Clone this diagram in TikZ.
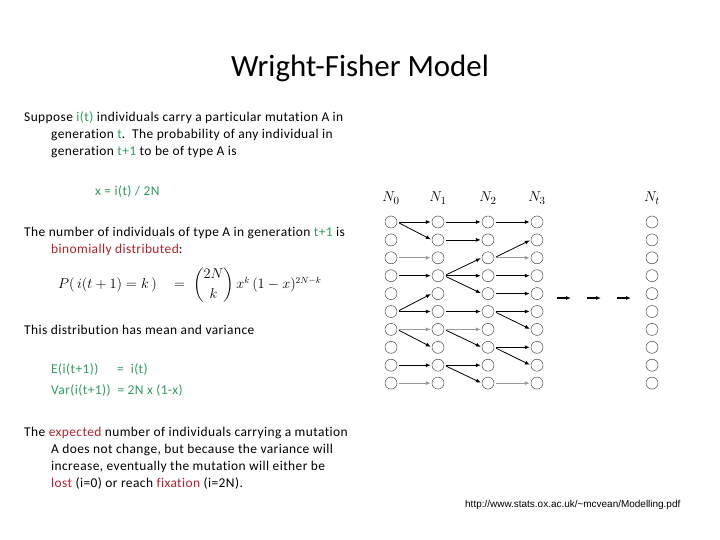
\documentclass[tikz,border=0pt]{standalone}
\usepackage{fontspec}
\usepackage{amsmath}
\usetikzlibrary{arrows.meta}
\setmainfont[Ligatures=NoCommon,LetterSpace=3]{Carlito}
\newfontfamily\titlefont[Ligatures=NoCommon]{Carlito}
\newfontfamily\urlfont{Liberation Sans}
\definecolor{grn}{HTML}{2E9B5F}
\definecolor{rd}{HTML}{B0202A}
\newcommand{\G}[1]{\textcolor{grn}{#1}}
\newcommand{\R}[1]{\textcolor{rd}{#1}}
\begin{document}
\begin{tikzpicture}[x=1bp,y=-1bp,
  txt/.style={anchor=base west,inner sep=0,font=\fontsize{13.5}{15}\selectfont},
  ind/.style={circle,draw=black!70,line width=0.5pt,minimum size=12bp,inner sep=0},
  arr/.style={-{Latex[length=5bp,width=4bp]},line width=0.8pt,shorten <=2bp,shorten >=1bp},
  garr/.style={arr,draw=black!40},
  lab/.style={font=\fontsize{15}{15}\selectfont,anchor=base}]
\useasboundingbox (0,0) rectangle (720,540);
\node[font=\titlefont\fontsize{31}{34}\selectfont] (title) at (360,68) {Wright-Fisher Model};
\node[txt] (l1) at (24,122) {Suppose \G{i(t)} individuals carry a particular mutation A in};
\node[txt] (l2) at (51,139) {generation \G{t}.\ \ The probability of any individual in};
\node[txt] (l3) at (51,156) {generation \G{t+1} to be of type A is};
\node[txt] (l4) at (95,196) {\G{x = i(t) / 2N}};
\node[txt] (l5) at (24,237) {The number of individuals of type A in generation \G{t+1} is};
\node[txt] (l6) at (51,254) {\R{binomially distributed}:};
\node[anchor=west,inner sep=0,font=\fontsize{13.5}{15}\selectfont] (f) at (58,285)
  {$P(\,i(t+1)=k\,)\quad=\;\dbinom{2N}{k}\,x^{k}\,(1-x)^{2N-k}$};
\node[txt] (l7) at (24,334) {This distribution has mean and variance};
\node[txt] (l8) at (51,373) {\G{E(i(t+1))}};
\node[txt] (l8b) at (117,373) {\G{= \ i(t)}};
\node[txt] (l9) at (51,394) {\G{Var(i(t+1))\ \ = 2N x (1-x)}};
\node[txt] (l10) at (24,436) {The \R{expected} number of individuals carrying a mutation};
\node[txt] (l11) at (51,453) {A does not change, but because the variance will};
\node[txt] (l12) at (51,470) {increase, eventually the mutation will either be};
\node[txt] (l13) at (51,487) {\R{lost} (i=0) or reach \R{fixation} (i=2N).};
\node[anchor=base west,inner sep=0,font=\urlfont\fontsize{10}{11}\selectfont] (url) at (465,507) {http://www.stats.ox.ac.uk/\textasciitilde mcvean/Modelling.pdf};
% columns
\foreach \c/\x in {0/391,1/438,2/488,3/537,4/652}{
  \foreach \r in {1,...,10}{
    \node[ind] (c\c r\r) at (\x,{222+(\r-1)*17.9}) {};
  }
}
\node[lab] (n0) at (391,202) {$N_0$};
\node[lab] (n1) at (438,202) {$N_1$};
\node[lab] (n2) at (488,202) {$N_2$};
\node[lab] (n3) at (537,202) {$N_3$};
\node[lab] (nt) at (652,202) {$N_t$};
% arrows col0->col1
\foreach \a/\b in {1/1,1/2,4/4,6/5,6/6,7/8,9/9}{\draw[arr] (c0r\a.east) -- (c1r\b.west);}
\foreach \a/\b in {3/3,7/7,10/10}{\draw[garr] (c0r\a.east) -- (c1r\b.west);}
% col1->col2
\foreach \a/\b in {1/1,2/2,4/3,4/4,4/5,6/6,7/8,9/9,9/10}{\draw[arr] (c1r\a.east) -- (c2r\b.west);}
\foreach \a/\b in {7/7}{\draw[garr] (c1r\a.east) -- (c2r\b.west);}
% col2->col3
\foreach \a/\b in {1/1,3/2,4/4,5/5,6/6,6/7,8/8,8/9}{\draw[arr] (c2r\a.east) -- (c3r\b.west);}
\foreach \a/\b in {3/3,10/10}{\draw[garr] (c2r\a.east) -- (c3r\b.west);}
% dots arrows
\coordinate (d1) at (555,298); \coordinate (d2) at (572,298);
\coordinate (d3) at (585,298); \coordinate (d4) at (602,298);
\coordinate (d5) at (615,298); \coordinate (d6) at (632,298);
\draw[arr,line width=1.2pt] (d1) -- (d2);
\draw[arr,line width=1.2pt] (d3) -- (d4);
\draw[arr,line width=1.2pt] (d5) -- (d6);
\end{tikzpicture}
\end{document}
